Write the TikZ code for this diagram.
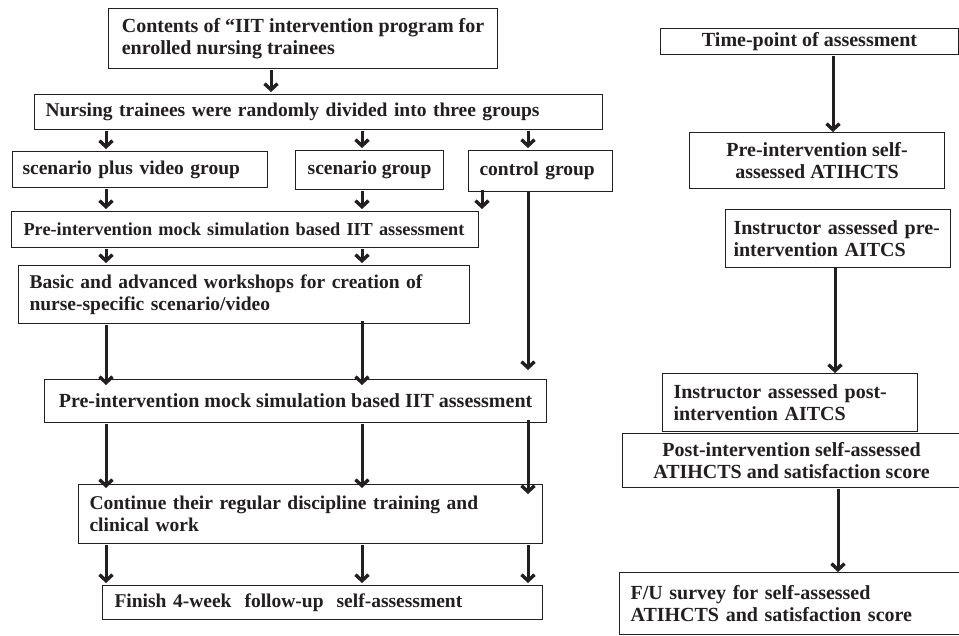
\documentclass[tikz,border=0pt]{standalone}
\usepackage{fontspec}
\setmainfont{Liberation Serif}
\usepackage{xcolor}
\usetikzlibrary{arrows.meta}
\definecolor{boxline}{RGB}{35,31,32}

\tikzset{
stepbox/.style={draw=boxline, line width=1.1pt, anchor=north west, inner ysep=0pt, inner xsep=0pt,
  font=\fontsize{19.5}{22.5}\selectfont\bfseries, text=boxline},
bigtext/.style={font=\fontsize{20}{22.5}\selectfont\bfseries},
flow/.style={draw=boxline, line width=3pt, shorten <=1pt, shorten >=2pt,
  -{Straight Barb[length=6pt,width=13pt,line width=3.4pt]}}
}

\begin{document}
\begin{tikzpicture}[x=1pt,y=-1pt]
\fill[white] (0,0) rectangle (959,635);
\useasboundingbox (0,0) rectangle (959,635);

\coordinate (colT) at (271,0);
\coordinate (colA) at (106,0);
\coordinate (colB) at (362,0);
\coordinate (colC) at (528,0);
\coordinate (colX) at (482,0);
\coordinate (colR) at (835,0);

% left flow
\node[stepbox, bigtext, align=left, minimum width=389pt, minimum height=60pt] (contents) at (108,8)
  {Contents of “IIT intervention program for\\enrolled nursing trainees};
\node[stepbox, align=left, inner xsep=11pt, text width=546pt, minimum height=35pt] (split) at (34,94)
  {Nursing trainees were randomly divided into three groups};
\node[stepbox, align=left, inner xsep=10pt, text width=235pt, minimum height=36pt] (grpSV) at (12,151)
  {scenario plus video group};
\node[stepbox, align=center, minimum width=148pt, minimum height=39pt] (grpS) at (295,150)
  {scenario group};
\node[stepbox, align=left, inner xsep=11pt, text width=122pt, minimum height=41pt] (grpC) at (468,150)
  {control group};
\node[stepbox, font=\fontsize{18.3}{21}\selectfont\bfseries, align=left, inner xsep=12pt, text width=443pt,
  minimum height=36pt] (pre1) at (11,211)
  {Pre-intervention mock simulation based IIT assessment};
\node[stepbox, align=left, inner xsep=11pt, text width=429pt, minimum height=58pt] (basic) at (18,265)
  {Basic and advanced workshops for creation of\\nurse-specific scenario/video};
\node[stepbox, bigtext, align=center, minimum width=502pt, minimum height=43pt] (pre2) at (44,379)
  {Pre-intervention mock simulation based IIT assessment};
\node[stepbox, align=left, inner xsep=11pt, text width=442pt, minimum height=59pt] (cont) at (78,484)
  {Continue their regular discipline training and\\clinical work};
\node[stepbox, align=left, inner xsep=12pt, text width=416pt, minimum height=34pt] (finish) at (102,585)
  {Finish 4-week\ \ follow-up\ \ self-assessment};

% time-points
\node[stepbox, bigtext, align=center, minimum width=298pt, minimum height=26pt] (timept) at (660,28)
  {Time-point of assessment};
\node[stepbox, bigtext, align=center, minimum width=255pt, minimum height=56pt] (preSelf) at (689,132)
  {Pre-intervention self-\\assessed ATIHCTS};
\node[stepbox, bigtext, align=left, inner xsep=8pt, text width=209pt, minimum height=58pt] (instrPre) at (725,209)
  {Instructor assessed pre-\\intervention AITCS};
\node[stepbox, bigtext, align=left, inner xsep=11pt, text width=233pt, minimum height=58pt] (instrPost) at (662,373)
  {Instructor assessed post-\\intervention AITCS};
\node[stepbox, bigtext, align=center, minimum width=338pt, minimum height=54pt] (postSelf) at (622,433)
  {Post-intervention self-assessed\\ATIHCTS and satisfaction score};
\node[stepbox, bigtext, align=left, inner xsep=11pt, text width=319pt, minimum height=62pt] (fu) at (619,572)
  {F/U survey for self-assessed\\ATIHCTS and satisfaction score};

\draw[flow] (contents.south -| colT) -- (split.north -| colT);
\draw[flow] (split.south -| colA) -- (grpSV.north -| colA);
\draw[flow] (split.south -| colB) -- (grpS.north -| colB);
\draw[flow] (split.south -| colC) -- (grpC.north -| colC);
\draw[flow] (grpSV.south -| colA) -- (pre1.north -| colA);
\draw[flow] (grpS.south -| colB) -- (pre1.north -| colB);
\draw[flow] ([yshift=3pt]grpC.south -| colX) -- (pre1.north -| colX);
\draw[flow, shorten <=0pt, shorten >=9pt] (grpC.south -| colC) -- (pre2.north -| colC);
\draw[flow] (pre1.south -| colA) -- (basic.north -| colA);
\draw[flow] (pre1.south -| colB) -- (basic.north -| colB);
\draw[flow] (basic.south -| colA) -- ([yshift=-8pt]pre2.north -| colA);
\draw[flow] ([yshift=4pt]basic.south -| colB) -- ([yshift=-8pt]pre2.north -| colB);
\draw[flow] (pre2.south -| colA) -- ([yshift=-6pt]cont.north -| colA);
\draw[flow] (pre2.south -| colB) -- ([yshift=-6pt]cont.north -| colB);
\draw[flow, shorten <=-3pt] (pre2.south -| colC) -- ([yshift=-12pt]cont.north -| colC);
\draw[flow] (cont.south -| colA) -- (finish.north -| colA);
\draw[flow] (cont.south -| colB) -- (finish.north -| colB);
\draw[flow] (cont.south -| colC) -- (finish.north -| colC);

\draw[flow, shorten >=0pt] ([xshift=-2pt]timept.south -| colR) -- ([xshift=-2pt]preSelf.north -| colR);
\draw[flow, shorten <=0pt, shorten >=0pt] (instrPre.south -| colR) -- (instrPost.north -| colR);
\draw[flow, shorten >=0pt] ([xshift=3pt]postSelf.south -| colR) -- ([xshift=3pt]fu.north -| colR);
\end{tikzpicture}
\end{document}
